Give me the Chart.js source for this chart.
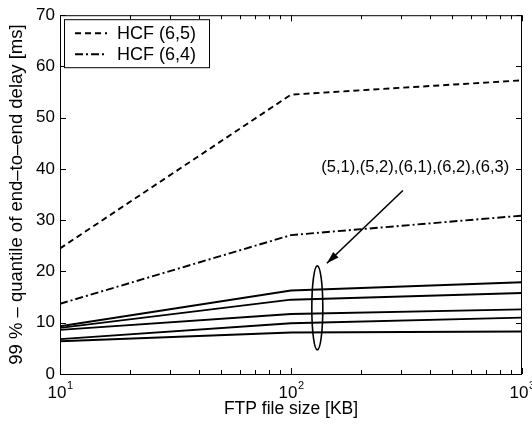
<!DOCTYPE html>
<html>
<head>
<meta charset="utf-8">
<script src="https://cdn.jsdelivr.net/npm/chart.js@4"></script>
<style>
  body { margin: 0; background: #fff; }
  #chart { display: block; }
</style>
</head>
<body>
<canvas id="chart" width="532" height="426"></canvas>
<script>
// FTP file sizes in KB (x axis, log scale)
const fileSizes = [10, 100, 1000];

// 99% quantile of end-to-end delay [ms]
const hcf65 = [24.5, 54.5, 57.3];
const hcf64 = [13.7, 27.1, 30.9];
const hcf51 = [9.3, 16.3, 17.9];
const hcf52 = [9.0, 14.5, 15.8];
const hcf61 = [8.6, 11.7, 12.6];
const hcf62 = [6.8, 9.9, 11.0];
const hcf63 = [6.4, 8.1, 8.3];

const legendLabels = ["HCF (6,5)", "HCF (6,4)"];
const groupLabel = "(5,1),(5,2),(6,1),(6,2),(6,3)";
const xDecades = [10, 100, 1000];
const yTicks = [0, 10, 20, 30, 40, 50, 60, 70];

const FONT = "Liberation Sans, Arial, Helvetica, sans-serif";

function toPoints(values) {
  return values.map((v, i) => ({ x: fileSizes[i], y: v }));
}

function lineSet(label, values, dash) {
  return {
    label: label,
    data: toPoints(values),
    borderColor: "#000",
    borderWidth: 1.9,
    borderDash: dash,
    pointRadius: 0,
    fill: false,
    tension: 0,
  };
}

const datasets = [
  lineSet(legendLabels[0], hcf65, [6, 4]),
  lineSet(legendLabels[1], hcf64, [8, 3, 2, 3]),
  lineSet("", hcf51, []),
  lineSet("", hcf52, []),
  lineSet("", hcf61, []),
  lineSet("", hcf62, []),
  lineSet("", hcf63, []),
];

// frame, inward ticks, x labels, legend and the annotation
const decorations = {
  id: "decorations",
  afterDraw(chart) {
    const ctx = chart.ctx;
    const area = chart.chartArea;
    const xs = chart.scales.x;
    const ys = chart.scales.y;
    ctx.save();
    ctx.strokeStyle = "#000";
    ctx.fillStyle = "#000";
    ctx.lineWidth = 1;

    // box
    ctx.strokeRect(area.left + 0.5, area.top + 0.5, area.right - area.left - 1, area.bottom - area.top);

    // x ticks (major + minor), top and bottom
    ctx.beginPath();
    for (let d = 10; d < 1000; d *= 10) {
      for (let m = 1; m <= 10; m++) {
        const px = Math.round(xs.getPixelForValue(d * m)) + 0.5;
        const len = m === 1 || m === 10 ? 6 : 4;
        ctx.moveTo(px, area.bottom);
        ctx.lineTo(px, area.bottom - len);
        ctx.moveTo(px, area.top);
        ctx.lineTo(px, area.top + len);
      }
    }
    // y ticks, left and right
    yTicks.forEach((t) => {
      const py = Math.round(ys.getPixelForValue(t)) + 0.5;
      ctx.moveTo(area.left, py);
      ctx.lineTo(area.left + 6, py);
      ctx.moveTo(area.right, py);
      ctx.lineTo(area.right - 6, py);
    });
    ctx.stroke();

    // x tick labels as 10^n
    ctx.textBaseline = "alphabetic";
    xDecades.forEach((d) => {
      const px = xs.getPixelForValue(d);
      const exp = String(Math.round(Math.log10(d)));
      ctx.font = "17px " + FONT;
      const w1 = ctx.measureText("10").width;
      ctx.font = "11px " + FONT;
      const w2 = ctx.measureText(exp).width;
      const start = px - (w1 + w2) / 2;
      ctx.font = "17px " + FONT;
      ctx.textAlign = "left";
      ctx.fillText("10", start, area.bottom + 24);
      ctx.font = "11px " + FONT;
      ctx.fillText(exp, start + w1 + 0.5, area.bottom + 15);
    });

    // legend
    const lx = area.left + 4, ly = area.top + 4, lw = 145, lh = 48;
    ctx.fillStyle = "#fff";
    ctx.fillRect(lx, ly, lw, lh);
    ctx.strokeRect(lx + 0.5, ly + 0.5, lw, lh);
    ctx.fillStyle = "#000";
    ctx.font = "18px " + FONT;
    ctx.textBaseline = "middle";
    ctx.textAlign = "left";
    [0, 1].forEach((i) => {
      const ds = chart.data.datasets[i];
      const rowY = ly + 14 + i * 21;
      ctx.save();
      ctx.lineWidth = 1.9;
      ctx.setLineDash(ds.borderDash);
      ctx.beginPath();
      ctx.moveTo(lx + 11, rowY);
      ctx.lineTo(lx + 43, rowY);
      ctx.stroke();
      ctx.restore();
      ctx.fillText(ds.label, lx + 53, rowY + 1);
    });

    // ellipse around the solid group
    const ex = xs.getPixelForValue(130);
    const ey = ys.getPixelForValue(12.9);
    ctx.lineWidth = 1.6;
    ctx.beginPath();
    ctx.ellipse(ex, ey, 5.5, 42, 0, 0, Math.PI * 2);
    ctx.stroke();

    // arrow
    const ax0 = xs.getPixelForValue(305), ay0 = ys.getPixelForValue(35.8);
    const ax1 = xs.getPixelForValue(143), ay1 = ys.getPixelForValue(21.6);
    ctx.beginPath();
    ctx.moveTo(ax0, ay0);
    ctx.lineTo(ax1, ay1);
    ctx.stroke();
    const ang = Math.atan2(ay1 - ay0, ax1 - ax0);
    ctx.beginPath();
    ctx.moveTo(ax1, ay1);
    ctx.lineTo(ax1 - 13 * Math.cos(ang - 0.3), ay1 - 13 * Math.sin(ang - 0.3));
    ctx.lineTo(ax1 - 13 * Math.cos(ang + 0.3), ay1 - 13 * Math.sin(ang + 0.3));
    ctx.closePath();
    ctx.fill();

    // group label
    ctx.font = "16.5px " + FONT;
    ctx.textAlign = "center";
    ctx.textBaseline = "middle";
    ctx.fillText(groupLabel, xs.getPixelForValue(345), ys.getPixelForValue(40.2));

    ctx.restore();
  },
};

const ctx = document.getElementById("chart").getContext("2d");
new Chart(ctx, {
  type: "line",
  data: { datasets: datasets },
  options: {
    responsive: false,
    animation: false,
    layout: { padding: { top: 10, right: 10, left: 0, bottom: 0 } },
    plugins: {
      legend: { display: false },
      tooltip: { enabled: false },
    },
    scales: {
      x: {
        type: "logarithmic",
        min: 10,
        max: 1000,
        grid: { display: false },
        border: { display: false },
        ticks: { display: false },
        title: {
          display: true,
          text: "FTP file size [KB]",
          color: "#000",
          font: { family: FONT, size: 17.5 },
          padding: { top: 0, bottom: 6 },
        },
        afterFit(scale) {
          scale.height = 52;
        },
      },
      y: {
        min: 0,
        max: 70,
        grid: { display: false, drawTicks: false },
        border: { display: false },
        ticks: {
          stepSize: 10,
          color: "#000",
          padding: 5,
          font: { family: FONT, size: 17 },
        },
        title: {
          display: true,
          text: "99 % \u2013 quantile of end\u2013to\u2013end delay [ms]",
          color: "#000",
          font: { family: FONT, size: 18.5 },
          padding: { top: 6, bottom: 0 },
        },
        afterFit(scale) {
          scale.width = 60;
        },
      },
    },
  },
  plugins: [decorations],
});
</script>
</body>
</html>
